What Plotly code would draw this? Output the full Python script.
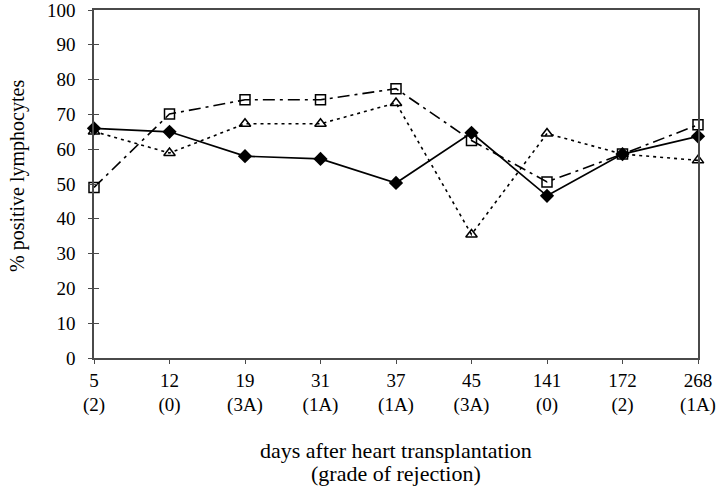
import plotly.graph_objects as go

days = ["5", "12", "19", "31", "37", "45", "141", "172", "268"]
grades = ["2", "0", "3A", "1A", "1A", "3A", "0", "2", "1A"]
series_diamond = [66.0, 65.0, 58.0, 57.2, 50.3, 64.7, 46.6, 58.6, 63.7]
series_square = [49.0, 70.1, 74.2, 74.2, 77.4, 62.5, 50.6, 58.6, 67.0]
series_triangle = [65.1, 58.9, 67.3, 67.3, 73.3, 35.5, 64.5, 58.6, 56.8]
y_ticks = list(range(0, 101, 10))

labels = [f"{d}<br>({g})" for d, g in zip(days, grades)]

FONT = "Liberation Serif, Times New Roman, serif"
AX = "#4a4a4a"
TOP, BOTTOM = 10, 131
PLOT_H = 489 - TOP - BOTTOM

fig = go.Figure()
fig.add_trace(go.Scatter(
    x=labels, y=series_triangle, mode="lines+markers",
    line=dict(color="black", width=1.6, dash="3px,4px"),
    marker=dict(symbol="triangle-up-open", size=10, color="black", line=dict(width=1.5)),
    cliponaxis=False, showlegend=False))
fig.add_trace(go.Scatter(
    x=labels, y=series_square, mode="lines+markers",
    line=dict(color="black", width=1.6, dash="12px,5px,3px,5px"),
    marker=dict(symbol="square-open", size=10, color="black", line=dict(width=1.5)),
    cliponaxis=False, showlegend=False))
fig.add_trace(go.Scatter(
    x=labels, y=series_diamond, mode="lines+markers",
    line=dict(color="black", width=1.7),
    marker=dict(symbol="diamond", size=11, color="black"),
    cliponaxis=False, showlegend=False))
# invisible helper trace for inner y tick marks
fig.add_trace(go.Scatter(x=[labels[0]], y=[None], yaxis="y2", showlegend=False, hoverinfo="skip"))

def py(pix):
    return (489 - BOTTOM - pix) / PLOT_H

fig.update_layout(
    width=720, height=489,
    margin=dict(l=94, r=22, t=TOP, b=BOTTOM),
    paper_bgcolor="white", plot_bgcolor="white",
    font=dict(family=FONT, color="black", size=19),
    xaxis=dict(
        type="category", range=[0, len(days) - 1],
        showline=True, linecolor=AX, linewidth=1.5, mirror=True,
        ticks="outside", ticklen=4, tickcolor=AX,
        showgrid=False, zeroline=False, automargin=False,
        tickfont=dict(size=19, family=FONT),
    ),
    yaxis=dict(
        range=[0, 100], tickvals=y_ticks,
        showline=True, linecolor=AX, linewidth=1.5, mirror=True,
        ticks="outside", ticklen=4, tickcolor=AX, ticklabelstandoff=9,
        ticklabeloverflow="allow",
        showgrid=False, zeroline=False, automargin=False,
        tickfont=dict(size=19, family=FONT),
    ),
    yaxis2=dict(overlaying="y", range=[0, 100], tickvals=y_ticks, ticks="inside",
                ticklen=5, tickcolor=AX, showticklabels=False, showgrid=False,
                zeroline=False, showline=False, automargin=False, side="left"),
    annotations=[
        dict(text="days after heart transplantation", x=0.5, y=py(450),
             xref="paper", yref="paper", showarrow=False, xanchor="center", yanchor="middle",
             font=dict(size=22, family=FONT)),
        dict(text="(grade of rejection)", x=0.5, y=py(473),
             xref="paper", yref="paper", showarrow=False, xanchor="center", yanchor="middle",
             font=dict(size=22, family=FONT)),
        dict(text="% positive lymphocytes", x=0, xshift=-77, y=py(176),
             xref="paper", yref="paper", showarrow=False, xanchor="center", yanchor="middle",
             textangle=-90, font=dict(size=20, family=FONT)),
    ],
)

fig.write_html("out.html", config={"displayModeBar": False},
               post_script="document.body.style.margin='0';document.body.style.overflow='hidden';")
